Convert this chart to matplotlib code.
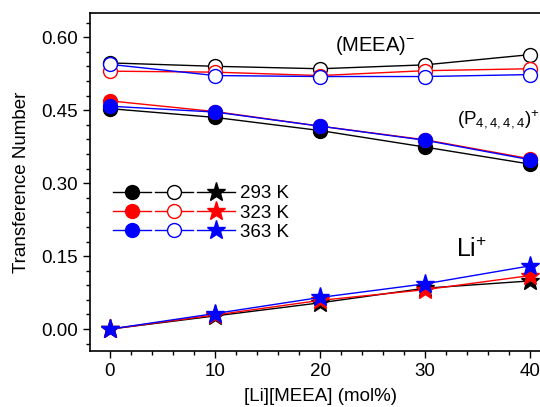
import matplotlib
matplotlib.use("Agg")
import matplotlib.pyplot as plt
from matplotlib.ticker import MultipleLocator, FormatStrFormatter

plt.rcParams['font.family'] = ['Liberation Sans', 'DejaVu Sans']
plt.rcParams['mathtext.fontset'] = 'custom'
plt.rcParams['mathtext.rm'] = 'Liberation Sans'

# [Li][MEEA] mol%
x = [0, 10, 20, 30, 40]
temps = ["293 K", "323 K", "363 K"]
colors = ["black", "red", "blue"]

# (P4444)+ : filled circles
p_293 = [0.453, 0.435, 0.408, 0.374, 0.339]
p_323 = [0.469, 0.447, 0.417, 0.389, 0.350]
p_363 = [0.458, 0.446, 0.417, 0.388, 0.348]

# (MEEA)- : open circles
m_293 = [0.547, 0.540, 0.535, 0.543, 0.564]
m_323 = [0.530, 0.528, 0.521, 0.531, 0.535]
m_363 = [0.544, 0.521, 0.519, 0.519, 0.523]

# Li+ : stars
li_293 = [0.000, 0.027, 0.054, 0.084, 0.099]
li_323 = [0.000, 0.029, 0.059, 0.081, 0.110]
li_363 = [0.000, 0.032, 0.065, 0.093, 0.130]

fig = plt.figure(figsize=(5.4, 4.07), dpi=100)
ax = fig.add_axes([0.1667, 0.1376, 0.852, 0.831])

p_all = [p_293, p_323, p_363]
m_all = [m_293, m_323, m_363]
li_all = [li_293, li_323, li_363]

h_fill, h_open, h_star = [], [], []
for c, p, m, li in zip(colors, p_all, m_all, li_all):
    l1, = ax.plot(x, p, '-o', color=c, lw=1, ms=10, mec=c, mfc=c)
    l2, = ax.plot(x, m, '-o', color=c, lw=1, ms=10, mec=c, mfc='white')
    l3, = ax.plot(x, li, '-*', color=c, lw=1, ms=14, mec=c, mfc=c)
    h_fill.append(l1)
    h_open.append(l2)
    h_star.append(l3)

ax.set_xlim(-1.9, 41.9)
ax.set_ylim(-0.045, 0.65)
ax.xaxis.set_major_locator(MultipleLocator(10))
ax.xaxis.set_minor_locator(MultipleLocator(2))
ax.yaxis.set_major_locator(MultipleLocator(0.15))
ax.yaxis.set_minor_locator(MultipleLocator(0.03))
ax.yaxis.set_major_formatter(FormatStrFormatter('%.2f'))
ax.tick_params(which='major', direction='out', length=5, width=1, labelsize=13.5)
ax.tick_params(which='minor', direction='out', length=3, width=1)
for s in ax.spines.values():
    s.set_linewidth(1.2)

ax.set_xlabel("[Li][MEEA] (mol%)", fontsize=13.5, labelpad=6)
ax.set_ylabel("Transference Number", fontsize=13.5, labelpad=8)

ax.text(21.4, 0.583, r'$\mathregular{(MEEA)^{-}}$', fontsize=14.5, va='center')
ax.text(33.0, 0.43, r'$\mathregular{(P_{4,4,4,4})^{+}}$', fontsize=13.5, va='center')
ax.text(32.9, 0.162, r'$\mathregular{Li^{+}}$', fontsize=18, va='center')

handles = h_fill + h_open + h_star
labels = [""] * 6 + temps
ax.legend(handles, labels, ncol=3, loc='center left', bbox_to_anchor=(0.05, 0.408),
          frameon=False, handlelength=2.0, handletextpad=0.25, columnspacing=0.0,
          labelspacing=0.12, borderpad=0, borderaxespad=0, fontsize=13.5)

fig.savefig("out.png", dpi=100)
